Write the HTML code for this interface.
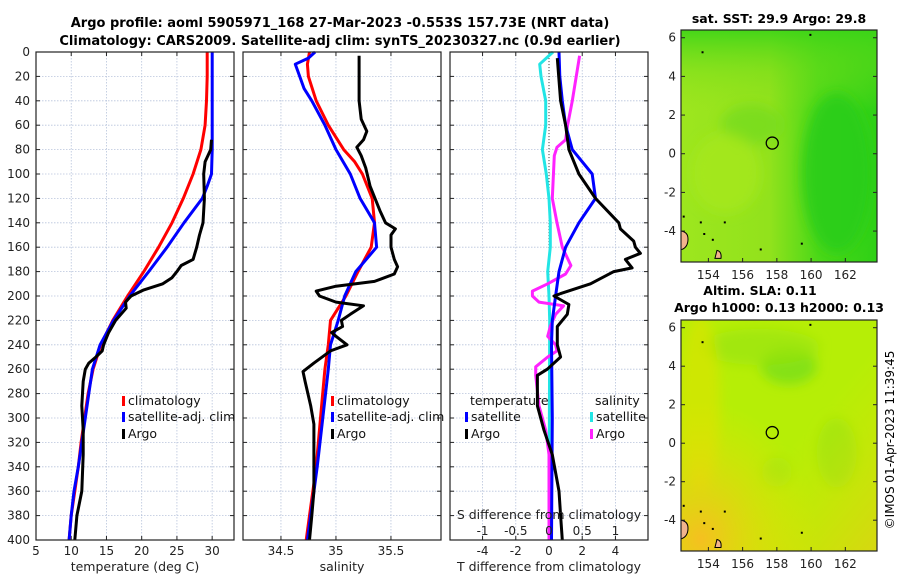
<!DOCTYPE html>
<html><head><meta charset="utf-8">
<style>
body{margin:0;background:#fff;}
svg text{font-family:"DejaVu Sans","Liberation Sans",sans-serif;}
</style></head>
<body>
<svg id="fig" width="900" height="580" viewBox="0 0 900 580" xmlns="http://www.w3.org/2000/svg">
<defs>
<linearGradient id="sstH" x1="0" y1="0" x2="1" y2="0">
<stop offset="0" stop-color="#9de61e"/><stop offset="0.45" stop-color="#92e21c"/><stop offset="0.7" stop-color="#4cd818"/><stop offset="1" stop-color="#2ed016"/></linearGradient>
<linearGradient id="sstV" x1="0" y1="0" x2="0" y2="1">
<stop offset="0" stop-color="#3cd418" stop-opacity="0.9"/><stop offset="0.18" stop-color="#6edc1a" stop-opacity="0.4"/><stop offset="0.35" stop-color="#8ee01c" stop-opacity="0"/></linearGradient>
<linearGradient id="slaV" x1="0" y1="0" x2="1" y2="1">
<stop offset="0" stop-color="#c8f000" stop-opacity="0"/><stop offset="0.55" stop-color="#e8e000" stop-opacity="0"/><stop offset="1" stop-color="#f2c41a" stop-opacity="0.9"/></linearGradient>
<radialGradient id="slaBL" cx="0.1" cy="0.95" r="0.6">
<stop offset="0" stop-color="#f5c020"/><stop offset="1" stop-color="#e8e400" stop-opacity="0"/></radialGradient>
<filter id="blur"><feGaussianBlur stdDeviation="6"/></filter>
<clipPath id="clipTop"><rect x="681" y="30" width="196" height="232"/></clipPath>
<clipPath id="clipBot"><rect x="681" y="320" width="196" height="231"/></clipPath>
</defs>
<text x="340" y="27" text-anchor="middle" font-size="13" font-weight="bold">Argo profile: aoml 5905971_168 27-Mar-2023 -0.553S 157.73E (NRT data)</text>
<text x="340" y="45" text-anchor="middle" font-size="13" font-weight="bold">Climatology: CARS2009. Satellite-adj clim: synTS_20230327.nc (0.9d earlier)</text>
<g id="panels"></g>
<g id="maps"></g>
<text transform="translate(894,440) rotate(-90)" text-anchor="middle" font-size="12">©IMOS 01-Apr-2023 11:39:45</text>
</svg>
<script>
// ---- data ----
const depthTicks=[0,20,40,60,80,100,120,140,160,180,200,220,240,260,280,300,320,340,360,380,400];
const tempTicks=[5,10,15,20,25,30];
const salTicks=[34.5,35,35.5];
const tdiffTicks=[-4,-2,0,2,4];
const sdiffTicks=[-1,-0.5,0,0.5,1];
const sdiffTickLabels=["-1","-0.5","0","0.5","1"];
// temperature
const tClimDepth=[0,20,40,60,80,100,120,140,160,180,200,220,240,260,280,300,320,340,360,380,400];
const tClimVal=[29.3,29.3,29.2,29.0,28.4,27.3,25.9,24.3,22.4,20.3,18.0,15.9,14.2,13.1,12.4,11.9,11.4,11.0,10.5,10.0,9.7];
const tSatDepth=[0,20,40,60,80,100,110,120,140,160,180,200,220,240,260,280,300,320,340,360,380,400];
const tSatVal=[30.0,30.0,30.0,30.0,30.0,29.9,29.3,28.6,26.0,23.6,21.0,18.3,16.0,14.1,13.0,12.5,12.0,11.5,11.0,10.4,10.0,9.7];
const tArgoDepth=[72,80,90,100,120,140,150,160,170,175,180,185,190,195,200,205,210,220,230,240,245,250,255,260,270,290,310,330,360,380,400];
const tArgoVal=[29.9,29.8,29.0,28.8,28.9,28.7,28.2,27.8,27.3,25.6,25.0,24.3,23.0,20.3,18.5,17.7,17.8,16.3,15.3,14.6,14.4,13.5,12.5,12.0,11.7,11.5,11.7,11.7,11.5,10.8,10.5];
// salinity
const sClimDepth=[0,10,20,40,60,80,90,100,120,140,160,180,200,210,220,240,260,300,340,380,400];
const sClimVal=[34.76,34.74,34.75,34.82,34.93,35.07,35.17,35.24,35.33,35.35,35.32,35.2,35.09,35.02,34.95,34.93,34.9,34.86,34.82,34.76,34.73];
const sSatDepth=[0,5,10,20,30,40,60,80,100,120,140,160,180,200,220,240,260,300,340,380,400];
const sSatVal=[34.81,34.75,34.63,34.67,34.71,34.78,34.9,35.0,35.13,35.22,35.35,35.37,35.18,35.08,35.02,34.95,34.93,34.88,34.83,34.77,34.74];
const sArgoDepth=[3,40,55,65,72,78,85,95,110,130,140,145,150,160,170,176,182,188,192,196,200,205,208,215,220,225,230,233,240,245,255,262,270,290,305,320,360,380,400];
const sArgoVal=[35.21,35.21,35.23,35.28,35.25,35.19,35.23,35.27,35.31,35.4,35.45,35.54,35.5,35.5,35.53,35.56,35.53,35.35,35.0,34.82,34.85,35.0,35.25,35.13,35.05,35.06,34.96,35.0,35.1,34.95,34.8,34.7,34.72,34.77,34.8,34.8,34.8,34.78,34.76];
// differences
const dTSatDepth=[0,20,40,60,75,80,100,120,140,160,180,200,220,240,300,400];
const dTSatVal=[0.6,0.65,0.8,1.0,1.3,1.4,2.6,2.8,1.8,1.0,0.6,0.4,0.2,0.15,0.2,0.15];
const dTArgoDepth=[5,40,60,75,80,100,120,140,145,155,160,165,170,177,180,190,198,200,207,215,225,240,250,260,265,290,310,330,360,380,400];
const dTArgoVal=[0.5,0.7,1.0,1.15,1.2,1.8,2.8,4.2,4.3,5.1,5.2,5.5,4.6,5.0,3.9,2.5,0.7,0.3,1.2,1.1,0.5,0.5,0.7,-0.1,-0.7,-0.7,-0.3,0.2,0.6,0.7,0.8];
const dSSatDepth=[0,10,20,40,60,80,100,120,140,160,180,200,220,400];
const dSSatVal=[0.06,-0.14,-0.12,-0.05,-0.05,-0.1,-0.04,0,0.02,0.02,-0.02,0,0.01,0];
const dSArgoDepth=[3,40,60,72,78,85,120,140,160,175,182,190,196,200,205,208,215,225,233,240,245,250,258,265,290,310,330,400];
const dSArgoVal=[0.46,0.35,0.28,0.25,0.12,0.08,0.05,0.12,0.2,0.33,0.25,-0.02,-0.25,-0.25,-0.15,0.22,0.1,0.02,-0.02,0.1,0.12,-0.02,-0.2,-0.2,-0.15,-0.05,0,0];
// maps
const lonTicks=[154,156,158,160,162];
const latTicks=[6,4,2,0,-2,-4];
const argoLon=157.73, argoLat=0.553;

const NS="http://www.w3.org/2000/svg";
function mk(tag,attrs,parent){const e=document.createElementNS(NS,tag);for(const k in attrs)e.setAttribute(k,attrs[k]);(parent||document.getElementById('panels')).appendChild(e);return e;}
const Y0=52,Y1=540;
function yD(d){return Y0+(d/400)*(Y1-Y0);}
function lin(d0,d1,r0,r1){return v=>r0+(v-d0)/(d1-d0)*(r1-r0);}
const panels=[
 {x0:36,x1:234,sx:lin(5,33.1,36,234),ticks:tempTicks,labels:tempTicks.map(String),label:"temperature (deg C)",name:"temperature"},
 {x0:243,x1:441,sx:lin(34.155,35.955,243,441),ticks:salTicks,labels:salTicks.map(String),label:"salinity",name:"salinity"},
 {x0:450,x1:648,sx:lin(-5.96,5.96,450,648),ticks:tdiffTicks,labels:tdiffTicks.map(String),label:"T difference from climatology",name:"difference"}
];
const sDiffX=lin(-1.49,1.49,450,648);
panels.forEach((p,i)=>{
 const g=mk('g',{});
 
 
 mk('rect',{x:p.x0,y:Y0,width:p.x1-p.x0,height:Y1-Y0,fill:'#fff'},g);
 depthTicks.forEach(d=>{
  const l=mk('line',{x1:p.x0,x2:p.x1,y1:yD(d),y2:yD(d),stroke:'#b8c4dc','stroke-width':0.8,'stroke-dasharray':'1.5,1.5'},g);
  
  mk('line',{x1:p.x0,x2:p.x0+4,y1:yD(d),y2:yD(d),stroke:'#222'},g);
  mk('line',{x1:p.x1,x2:p.x1-4,y1:yD(d),y2:yD(d),stroke:'#222'},g);
 });
 p.ticks.forEach((t,k)=>{
  const x=p.sx(t);
  const l=mk('line',{x1:x,x2:x,y1:Y0,y2:Y1,stroke:'#b8c4dc','stroke-width':0.8,'stroke-dasharray':'1.5,1.5'},g);
  
  mk('line',{x1:x,x2:x,y1:Y1,y2:Y1-4,stroke:'#222'},g);
  mk('line',{x1:x,x2:x,y1:Y0,y2:Y0+4,stroke:'#222'},g);
  const tx=mk('text',{x:x,y:555,'text-anchor':'middle','font-size':12,fill:'#222'},g);
  tx.textContent=p.labels[k];
  
  
 });
 const xl=mk('text',{x:(p.x0+p.x1)/2,y:571,'text-anchor':'middle','font-size':12.5,fill:'#222'},g);
 xl.textContent=p.label;
 
 
});
// y tick labels
depthTicks.forEach(d=>{
 const t=mk('text',{x:30,y:yD(d)+4,'text-anchor':'end','font-size':12,fill:'#222'});
 t.textContent=String(d);
 
 
});
// zero dotted line in diff panel
mk('line',{x1:panels[2].sx(0),x2:panels[2].sx(0),y1:Y0,y2:Y1,stroke:'#444','stroke-width':1,'stroke-dasharray':'1,2'});
function series(ds,vs,sx,color,name){
 const pts=ds.map((d,i)=>sx(vs[i]).toFixed(1)+','+yD(d).toFixed(1)).join(' ');
 const e=mk('polyline',{points:pts,fill:'none',stroke:color,'stroke-width':3,'stroke-linejoin':'round'});
 
 
}
series(tClimDepth,tClimVal,panels[0].sx,'#ff0000','temp-climatology-line');
series(tSatDepth,tSatVal,panels[0].sx,'#0000ff','temp-satellite-line');
series(tArgoDepth,tArgoVal,panels[0].sx,'#000','temp-argo-line');
series(sClimDepth,sClimVal,panels[1].sx,'#ff0000','sal-climatology-line');
series(sSatDepth,sSatVal,panels[1].sx,'#0000ff','sal-satellite-line');
series(sArgoDepth,sArgoVal,panels[1].sx,'#000','sal-argo-line');
series(dSSatDepth,dSSatVal,sDiffX,'#22e5e5','sdiff-satellite-line');
series(dSArgoDepth,dSArgoVal,sDiffX,'#ff22ff','sdiff-argo-line');
series(dTSatDepth,dTSatVal,panels[2].sx,'#0000ff','tdiff-satellite-line');
series(dTArgoDepth,dTArgoVal,panels[2].sx,'#000','tdiff-argo-line');
// frames
panels.forEach(p=>{mk('rect',{x:p.x0,y:Y0,width:p.x1-p.x0,height:Y1-Y0,fill:'none',stroke:'#222','stroke-width':1.2});});
// S diff axis
const sdl=mk('text',{x:549,y:519,'text-anchor':'middle','font-size':12.5,fill:'#222'});
sdl.textContent='S difference from climatology';


sdiffTicks.forEach((t,k)=>{
 const e=mk('text',{x:sDiffX(t),y:535,'text-anchor':'middle','font-size':12,fill:'#222'});
 e.textContent=sdiffTickLabels[k];
 
 
});
// legends
function legend(x,y,color,label,name){
 mk('rect',{x:x,y:y-9,width:3,height:10,fill:color});
 const t=mk('text',{x:x+6,y:y,'font-size':12.5,fill:'#111'});
 t.textContent=label;
 
 
}
legend(122,405,'#ff0000','climatology','legend-climatology');
legend(122,421,'#0000ff','satellite-adj. clim','legend-satellite');
legend(122,438,'#000','Argo','legend-argo');
legend(331,405,'#ff0000','climatology','legend-climatology-2');
legend(331,421,'#0000ff','satellite-adj. clim','legend-satellite-2');
legend(331,438,'#000','Argo','legend-argo-2');
const lt=mk('text',{x:470,y:405,'font-size':12.5,fill:'#111'});lt.textContent='temperature';


const ls=mk('text',{x:595,y:405,'font-size':12.5,fill:'#111'});ls.textContent='salinity';


legend(465,421,'#0000ff','satellite','legend-t-satellite');
legend(465,438,'#000','Argo','legend-t-argo');
legend(590,421,'#22e5e5','satellite','legend-s-satellite');
legend(590,438,'#ff22ff','Argo','legend-s-argo');

// ---- maps ----
const M=document.getElementById('maps');
function drawMap(y0,y1,clip,fillFn,name,titles){
 const g=mk('g',{},M);
 
 
 const sx=lin(152.4,163.85,681,877), sy=lin(6.4,-5.6,y0,y1);
 const cg=mk('g',{'clip-path':'url(#'+clip+')'},g);
 fillFn(cg,sx,sy,y0,y1);
 // land
 mk('path',{d:`M679,${sy(-4.0)} q9,0 9,8 q0,9 -8,11 z`,fill:'#f2b48c',stroke:'#000','stroke-width':1},cg);
 mk('path',{d:`M${sx(154.5)},${sy(-5.0)} q5,1 4,8 l-6,0 z`,fill:'#f2b48c',stroke:'#000','stroke-width':1},cg);
 [[153.6,5.3],[153.5,-3.5],[153.7,-4.1],[154.2,-4.4],[157,-4.9],[159.4,-4.6],[154.9,-3.5],[159.9,6.2],[152.5,-3.2]].forEach(p=>mk('rect',{x:sx(p[0]),y:sy(p[1]),width:2,height:2,fill:'#000'},cg));
 mk('rect',{x:681,y:y0,width:196,height:y1-y0,fill:'none',stroke:'#222','stroke-width':1.2},g);
 const c=mk('circle',{cx:sx(argoLon),cy:sy(argoLat),r:6,fill:'none',stroke:'#000','stroke-width':1.3},g);
 
 
 lonTicks.forEach(l=>{
  mk('line',{x1:sx(l),x2:sx(l),y1:y1,y2:y1-4,stroke:'#222'},g);
  const t=mk('text',{x:sx(l),y:y1+17,'text-anchor':'middle','font-size':12,fill:'#222'},g);t.textContent=String(l);
  
  
 });
 latTicks.forEach(l=>{
  mk('line',{x1:681,x2:685,y1:sy(l),y2:sy(l),stroke:'#222'},g);
  mk('line',{x1:877,x2:873,y1:sy(l),y2:sy(l),stroke:'#222'},g);
  const t=mk('text',{x:676,y:sy(l)+4,'text-anchor':'end','font-size':12,fill:'#222'},g);t.textContent=String(l);
  
  
 });
 titles.forEach(tt=>{
  const t=mk('text',{x:tt[0],y:tt[1],'text-anchor':'middle','font-size':12.5,'font-weight':'bold'},g);t.textContent=tt[2];
  
  
 });
}
drawMap(30,262,'clipTop',(cg,sx,sy,y0,y1)=>{
 mk('rect',{x:681,y:y0,width:196,height:y1-y0,fill:'url(#sstH)'},cg);
 mk('rect',{x:681,y:y0,width:196,height:y1-y0,fill:'url(#sstV)'},cg);
 const b=mk('g',{filter:'url(#blur)'},cg);
 mk('ellipse',{cx:sx(156.5),cy:sy(1.5),rx:30,ry:20,fill:'#6cd81a',opacity:0.6},b);
 mk('ellipse',{cx:sx(161.5),cy:sy(-1),rx:35,ry:80,fill:'#28cc18',opacity:0.8},b);
 mk('ellipse',{cx:sx(155),cy:sy(-1),rx:35,ry:40,fill:'#a8e81e',opacity:0.7},b);
},'sst-map',[[779,23,'sat. SST: 29.9 Argo: 29.8']]);
drawMap(320,551,'clipBot',(cg,sx,sy,y0,y1)=>{
 mk('rect',{x:681,y:y0,width:196,height:y1-y0,fill:'#b6ee06'},cg);
 const b=mk('g',{filter:'url(#blur)'},cg);
 mk('ellipse',{cx:sx(158.7),cy:sy(4),rx:28,ry:18,fill:'#7ee014',opacity:0.9},b);
 mk('ellipse',{cx:sx(157),cy:sy(5),rx:60,ry:18,fill:'#98e410',opacity:0.7},b);
 mk('ellipse',{cx:sx(161.5),cy:sy(-0.5),rx:20,ry:35,fill:'#98e410',opacity:0.7},b);
 mk('ellipse',{cx:sx(158),cy:sy(-1.5),rx:15,ry:15,fill:'#a0e610',opacity:0.7},b);
 mk('ellipse',{cx:sx(153.5),cy:sy(2),rx:20,ry:90,fill:'#d8e400',opacity:0.7},b);
 mk('rect',{x:681,y:y0,width:196,height:y1-y0,fill:'url(#slaBL)'},cg);
 mk('rect',{x:681,y:y0,width:196,height:y1-y0,fill:'url(#slaV)',opacity:0.6},cg);
},'sla-map',[[760,295,'Altim. SLA: 0.11'],[779,312,'Argo h1000: 0.13 h2000: 0.13']]);
</script>
</body></html>
